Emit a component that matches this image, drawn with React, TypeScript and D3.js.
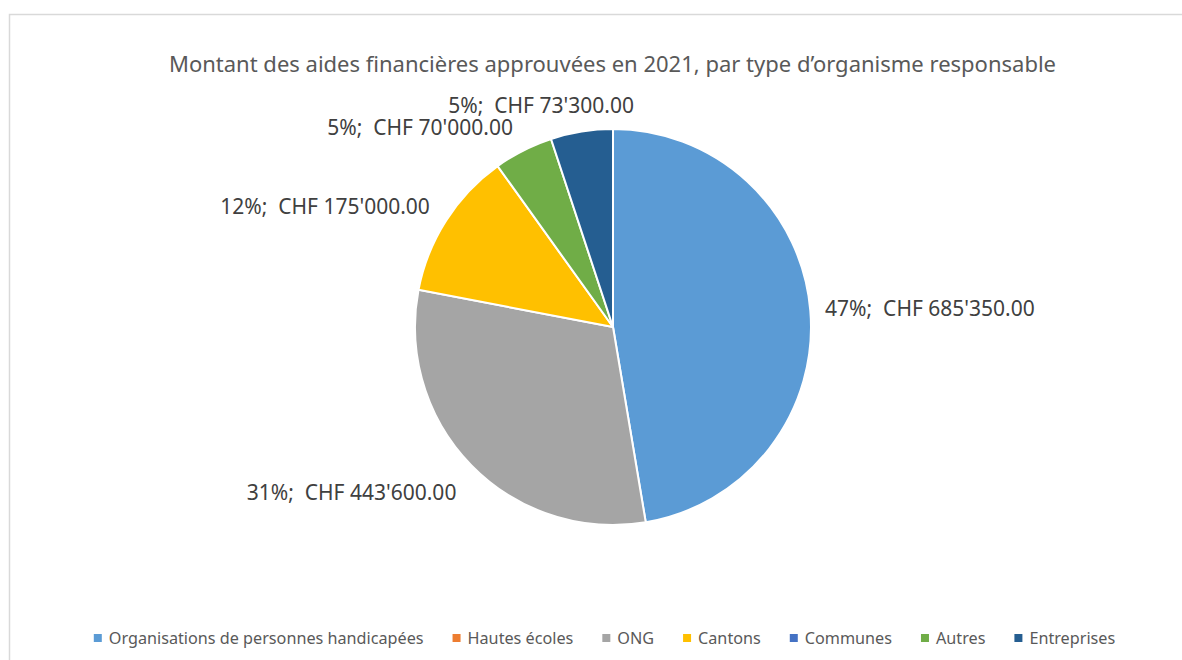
import React, { useEffect, useRef } from 'react';
import * as d3 from 'd3';

const title = "Montant des aides financières approuvées en 2021, par type d’organisme responsable";
const categories = [
  'Organisations de personnes handicapées',
  'Hautes écoles',
  'ONG',
  'Cantons',
  'Communes',
  'Autres',
  'Entreprises',
];
const amounts = [685350, 0, 443600, 175000, 0, 70000, 73300];
const colors = ['#5B9BD5', '#ED7D31', '#A5A5A5', '#FFC000', '#4472C4', '#70AD47', '#255E91'];

const FONT = '"Noto Sans", "Open Sans", sans-serif';

const fmtChf = (v: number) => {
  const s = d3.format(',.2f')(v);
  return 'CHF ' + s.replace(/,/g, "'");
};

export default function App() {
  const ref = useRef<SVGSVGElement>(null);

  useEffect(() => {
    const width = 1182;
    const height = 660;
    const svg = d3.select(ref.current);
    svg.selectAll('*').remove();
    svg.attr('width', width).attr('height', height);

    // chart frame (right and bottom edges run off the page)
    svg.append('rect')
      .attr('x', 9.5).attr('y', 14.5)
      .attr('width', width + 20).attr('height', height + 20)
      .attr('fill', '#fff').attr('stroke', '#d9d9d9').attr('stroke-width', 1.5);

    svg.append('text')
      .attr('x', 612.5).attr('y', 72)
      .attr('text-anchor', 'middle')
      .style('font-family', FONT).style('font-size', '22px')
      .attr('fill', '#595959')
      .text(title);

    const cx = 613;
    const cy = 327;
    const r = 198;

    const data = categories.map((c, i) => ({ name: c, value: amounts[i], color: colors[i] }));
    const total = d3.sum(amounts);

    const pie = d3.pie<any>().sort(null).value(d => d.value);
    const arcs = pie(data);
    const arc = d3.arc<any>().innerRadius(0).outerRadius(r);

    const g = svg.append('g').attr('transform', `translate(${cx},${cy})`);
    g.selectAll('path')
      .data(arcs.filter(a => a.data.value > 0))
      .enter()
      .append('path')
      .attr('d', arc)
      .attr('fill', d => d.data.color)
      .attr('stroke', '#fff')
      .attr('stroke-width', 2)
      .attr('stroke-linejoin', 'round');

    // data labels, outside end (zero slices get none)
    const lr = 212;
    arcs.filter(a => a.data.value > 0).forEach(a => {
      const mid = (a.startAngle + a.endAngle) / 2;
      const sx = Math.sin(mid);
      const sy = -Math.cos(mid);
      const px = sx * (lr + 10 * Math.abs(sy));
      const py = sy * lr + (sy > 0 ? 25 : 12) * sy;
      const pct = Math.round((a.data.value / total) * 100);
      const t = g.append('text')
        .attr('y', py)
        .attr('dy', '0.35em')
        .attr('text-anchor', 'middle')
        .style('font-family', FONT).style('font-size', '21px')
        .attr('fill', '#404040')
        .text(`${pct}%;\u00a0\u00a0${fmtChf(a.data.value)}`);
      const w = (t.node() as SVGTextElement).getComputedTextLength();
      const f = Math.min(1, Math.abs(sx) * 2.5);
      t.attr('x', px + Math.sign(sx) * (w / 2) * f);
    });

    // legend
    const legend = svg.append('g');
    const ly = 644;
    const items: { g: any; w: number }[] = [];
    data.forEach(d => {
      const ig = legend.append('g');
      ig.append('rect').attr('x', 0).attr('y', ly - 10).attr('width', 8).attr('height', 8).attr('fill', d.color);
      const t = ig.append('text')
        .attr('x', 15).attr('y', ly)
        .style('font-family', FONT).style('font-size', '16.2px')
        .attr('fill', '#595959')
        .text(d.name);
      const w = 15 + (t.node() as SVGTextElement).getComputedTextLength();
      items.push({ g: ig, w });
    });
    const gap = 29;
    const totalW = d3.sum(items, it => it.w) + gap * (items.length - 1);
    let x = 604.5 - totalW / 2;
    items.forEach(it => {
      it.g.attr('transform', `translate(${x},0)`);
      x += it.w + gap;
    });
  }, []);

  return <svg ref={ref} style={{ position: 'absolute', left: 0, top: 0, display: 'block' }} />;
}
